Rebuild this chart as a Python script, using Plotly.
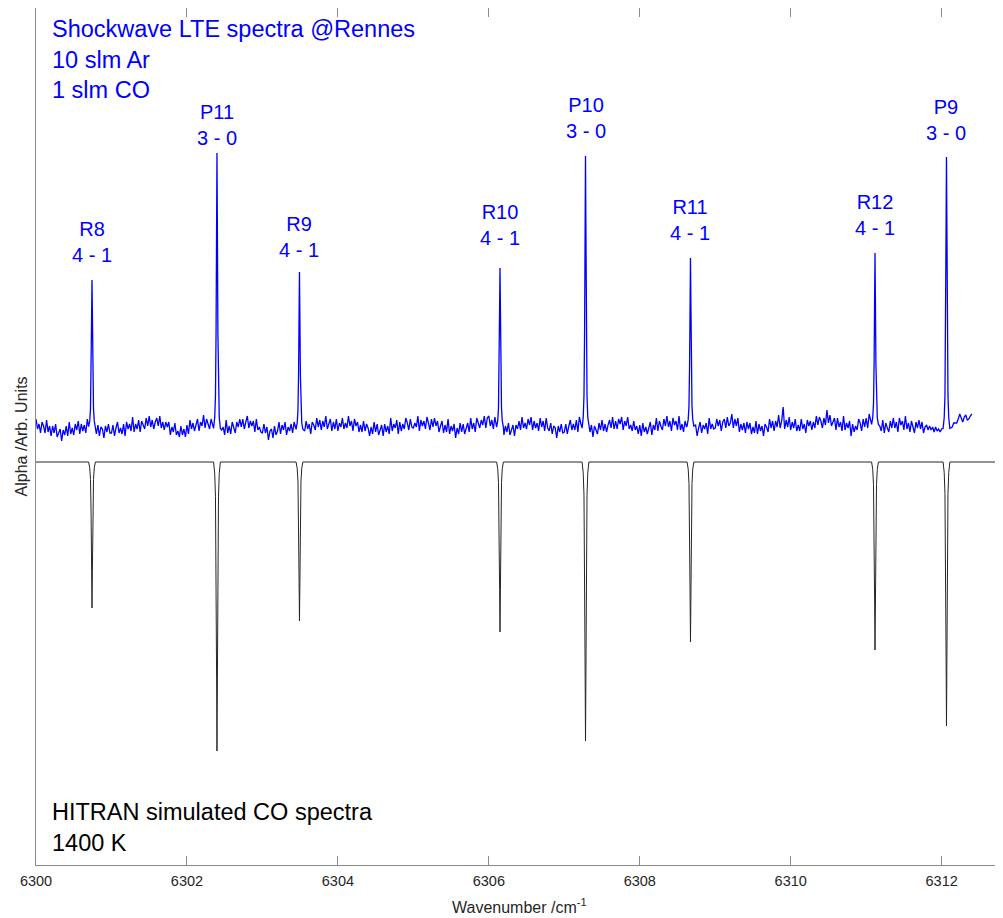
import numpy as np
import plotly.graph_objects as go

# ---------------- data ----------------
# Measured (blue) spectrum samples, 0.02 cm-1 apart, starting at 6300.00 (one row per cm-1)
x_start = 6300.0
x_step = 0.02
blue_values = [
    446, 436, 441, 432, 443, 439, 432, 445, 433, 439, 429, 439, 432, 441, 428, 433, 436, 424, 435, 430,
    439, 429, 443, 431, 437, 430, 441, 435, 444, 431, 441, 434, 440, 432, 446, 438, 444, 435, 444, 435,
    431, 440, 429, 438, 436, 427, 439, 433, 441, 432,
    432, 440, 429, 437, 443, 432, 437, 431, 441, 429, 443, 436, 441, 434, 448, 433, 441, 436, 445, 433,
    444, 440, 436, 447, 439, 449, 438, 445, 436, 443, 447, 439, 449, 437, 443, 435, 443, 438, 443, 430,
    438, 433, 442, 430, 434, 428, 439, 430, 436, 428,
    440, 431, 445, 436, 442, 434, 441, 446, 434, 443, 439, 450, 437, 446, 441, 436, 446, 438, 447, 436,
    442, 430, 442, 435, 438, 430, 445, 432, 439, 431, 443, 438, 432, 443, 438, 446, 438, 446, 436, 443,
    449, 437, 444, 439, 444, 433, 446, 435, 438, 433,
    432, 441, 432, 438, 425, 434, 436, 427, 439, 430, 434, 443, 431, 440, 435, 443, 430, 438, 434, 441,
    432, 443, 437, 443, 433, 440, 435, 447, 434, 444, 436, 441, 431, 443, 440, 435, 447, 438, 445, 435,
    444, 438, 449, 436, 442, 446, 434, 443, 436, 446,
    434, 442, 438, 447, 436, 442, 437, 449, 439, 444, 434, 446, 439, 443, 433, 440, 433, 444, 434, 441,
    437, 429, 438, 431, 443, 433, 441, 430, 435, 440, 429, 441, 433, 439, 431, 447, 434, 441, 437, 445,
    431, 443, 434, 441, 436, 447, 442, 435, 446, 438,
    437, 442, 438, 449, 434, 445, 439, 444, 436, 448, 442, 435, 446, 438, 447, 439, 444, 433, 439, 444,
    432, 440, 433, 446, 431, 439, 434, 441, 427, 437, 431, 442, 433, 441, 431, 436, 442, 433, 447, 436,
    442, 433, 447, 442, 437, 445, 440, 449, 437, 447,
    449, 439, 445, 436, 448, 443, 437, 448, 435, 440, 430, 439, 433, 442, 430, 436, 440, 429, 440, 436,
    444, 435, 448, 437, 442, 436, 446, 440, 448, 435, 444, 437, 442, 434, 447, 438, 444, 434, 447, 437,
    434, 442, 431, 439, 437, 427, 439, 433, 441, 432,
    433, 441, 431, 439, 445, 435, 441, 435, 445, 433, 448, 441, 445, 438, 450, 434, 440, 433, 440, 428,
    439, 435, 431, 442, 435, 445, 434, 441, 433, 440, 445, 437, 448, 436, 444, 436, 446, 441, 448, 435,
    444, 439, 448, 436, 440, 434, 444, 435, 439, 431,
    440, 429, 442, 433, 438, 431, 437, 443, 430, 440, 435, 447, 434, 444, 439, 435, 446, 439, 449, 438,
    444, 434, 447, 440, 444, 435, 449, 435, 441, 433, 444, 438, 430, 440, 433, 441, 432, 440, 429, 437,
    443, 432, 440, 436, 442, 431, 447, 436, 441, 436,
    437, 446, 439, 445, 434, 443, 446, 437, 448, 439, 442, 451, 437, 446, 439, 447, 433, 441, 435, 442,
    432, 443, 436, 442, 431, 438, 432, 444, 431, 441, 434, 439, 429, 441, 438, 433, 446, 437, 444, 434,
    444, 438, 450, 437, 444, 458, 436, 445, 438, 448,
    435, 443, 437, 446, 434, 440, 434, 446, 436, 441, 432, 445, 439, 444, 435, 443, 437, 449, 440, 448,
    444, 437, 447, 440, 455, 442, 450, 439, 443, 447, 435, 447, 438, 443, 434, 449, 435, 442, 437, 444,
    429, 441, 433, 439, 435, 446, 442, 434, 446, 438,
    447, 437, 451, 442, 446, 437, 441, 444, 430, 439, 434, 445, 432, 442, 437, 433, 444, 437, 447, 437,
    443, 433, 447, 440, 444, 435, 449, 436, 442, 433, 444, 439, 432, 443, 437, 445, 436, 443, 432, 438,
    440, 435, 439, 435, 438, 433, 438, 434, 436, 433,
    436, 435, 435, 436, 436, 436, 437, 438, 442, 442, 442, 446, 451, 447, 443, 448, 450, 445, 446, 449,
    451,
]

line_names = ["R8", "P11", "R9", "R10", "P10", "R11", "R12", "P9"]
line_bands = ["4 - 1", "3 - 0", "4 - 1", "4 - 1", "3 - 0", "4 - 1", "4 - 1", "3 - 0"]
line_centers = [6300.742, 6302.398, 6303.491, 6306.148, 6307.281, 6308.672, 6311.117, 6312.064]
blue_peak_tops = [585, 712, 593, 597, 709, 607, 612, 708]
label_heights = [623, 740, 628.5, 640, 747, 645, 650.5, 745]

# Simulated (black) HITRAN spectrum
black_baseline = 403
black_dip_bottoms = [257, 114, 244, 233, 124, 223, 215, 139]
black_x_span = [6300.0, 6312.813]

# Line shape (offset in cm-1, fraction of line height)
profile_offsets = [-0.045, -0.03, -0.02, -0.012, -0.005, 0.0, 0.005, 0.012, 0.02, 0.03, 0.045]
profile_fracs = [0.0, 0.04, 0.12, 0.35, 0.75, 1.0, 0.75, 0.35, 0.12, 0.04, 0.0]

# ---------------- build traces ----------------
bx = np.round(x_start + x_step * np.arange(len(blue_values)), 3)
by = np.array(blue_values, dtype=float)
keep = np.ones(len(bx), dtype=bool)
for c in line_centers:
    keep &= np.abs(bx - c) > 0.05
kx, ky = list(bx[keep]), list(by[keep])
base_x, base_y = bx[keep], by[keep]
for c, top in zip(line_centers, blue_peak_tops):
    base = float(np.interp(c, base_x, base_y))
    for off, fr in zip(profile_offsets, profile_fracs):
        kx.append(c + off)
        ky.append(base + fr * (top - base))
order = np.argsort(kx)
blue_x = np.array(kx)[order]
blue_y = np.array(ky)[order]

kx2 = [black_x_span[0], black_x_span[1]]
ky2 = [black_baseline, black_baseline]
for c, bot in zip(line_centers, black_dip_bottoms):
    for off, fr in zip(profile_offsets, profile_fracs):
        kx2.append(c + off)
        ky2.append(black_baseline - fr * (black_baseline - bot))
order2 = np.argsort(kx2)
black_x = np.array(kx2)[order2]
black_y = np.array(ky2)[order2]

FONT = "Liberation Sans, Arial, sans-serif"
AX = "#8a8a8a"

fig = go.Figure()
fig.add_trace(go.Scatter(x=black_x, y=black_y, mode="lines",
                         line=dict(color="#262626", width=1), hoverinfo="skip", showlegend=False))
fig.add_trace(go.Scatter(x=blue_x, y=blue_y, mode="lines",
                         line=dict(color="#0000ff", width=1.3), hoverinfo="skip", showlegend=False))

annotations = []
for c, nm, bd, ly in zip(line_centers, line_names, line_bands, label_heights):
    annotations.append(dict(x=c, y=ly, xref="x", yref="y", text=f"{nm}<br>{bd}",
                            showarrow=False, xanchor="center", yanchor="middle",
                            font=dict(family=FONT, size=20, color="#0000ff")))

annotations.append(dict(x=0.0145, y=851, xref="paper", yref="y", xanchor="left", yanchor="top",
                        align="left", showarrow=False,
                        text="Shockwave LTE spectra @Rennes<br>10 slm Ar<br>1 slm CO",
                        font=dict(family=FONT, size=23.5, color="#0000ff")))
annotations.append(dict(x=0.0145, y=7, xref="paper", yref="y", xanchor="left", yanchor="bottom",
                        align="left", showarrow=False,
                        text="HITRAN simulated CO spectra<br>1400 K",
                        font=dict(family=FONT, size=23.5, color="#000000")))
annotations.append(dict(x=0.5, y=-0.0478, xref="paper", yref="paper", xanchor="center", yanchor="middle",
                        showarrow=False, text="Wavenumber /cm<sup>-1</sup>",
                        font=dict(family=FONT, size=16, color="#262626")))
annotations.append(dict(x=-0.0145, y=0.5, xref="paper", yref="paper", xanchor="center", yanchor="middle",
                        showarrow=False, text="Alpha /Arb. Units", textangle=-90,
                        font=dict(family=FONT, size=16, color="#262626")))

# the page adds an 8 px body margin, so the figure is sized to end at the window edge
fig.update_layout(
    width=995, height=910,
    margin=dict(l=28, r=0, t=0, b=53, pad=0),
    plot_bgcolor="white", paper_bgcolor="white",
    annotations=annotations,
    xaxis=dict(range=black_x_span, tickvals=[6300, 6302, 6304, 6306, 6308, 6310, 6312],
               ticks="inside", ticklen=9, tickcolor=AX, tickwidth=1, ticklabelstandoff=3,
               showline=True, linecolor=AX, linewidth=1, mirror="ticks",
               showgrid=False, zeroline=False,
               tickfont=dict(family=FONT, size=14.5, color="#262626")),
    yaxis=dict(range=[0, 857], showticklabels=False, ticks="",
               showline=True, linecolor=AX, linewidth=1, mirror=False,
               showgrid=False, zeroline=False),
)

fig.write_html("out.html")
